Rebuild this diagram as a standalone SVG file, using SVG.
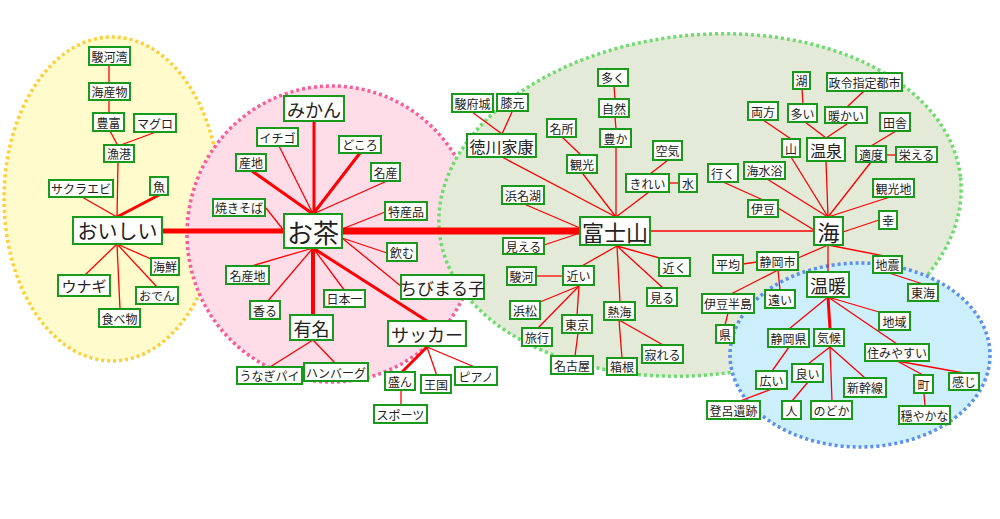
<svg xmlns="http://www.w3.org/2000/svg" width="1000" height="519" viewBox="0 0 1000 519">
<style>
.bg{stroke-width:3.5;stroke-dasharray:3 3}
.n rect{fill:#fff;stroke:#1a9a1a;stroke-width:2}
.n text{font-family:"Noto Sans CJK JP","Noto Sans",sans-serif;text-anchor:middle;dominant-baseline:central;fill:#222;font-size:12px}
#edges line{stroke:#ff0000;stroke-width:1.3}
#edges line.t3{stroke-width:3}
#edges line.t4{stroke-width:4}
#edges line.t5{stroke-width:5}
#edges line.t7{stroke-width:7}
</style>
<rect width="1000" height="519" fill="#fff"/>
<g id="regions">
<ellipse class="bg" cx="112" cy="199" rx="108" ry="162" fill="#fffbcc" stroke="#ffcf3a"/>
<ellipse class="bg" cx="332" cy="234" rx="145" ry="148" fill="#ffdde8" stroke="#fb5c98"/>
<ellipse class="bg" cx="700" cy="205" rx="262" ry="170" transform="rotate(-6 700 205)" fill="#e4ead8" stroke="#6ddc6d"/>
<ellipse class="bg" cx="860" cy="355" rx="130" ry="92" fill="#cdeefb" stroke="#5b8ff0"/>
</g>
<g id="edges">
<line x1="109" y1="65" x2="109" y2="83"/>
<line x1="109" y1="100" x2="109" y2="113"/>
<line x1="110" y1="131" x2="118" y2="146"/>
<line x1="156" y1="132" x2="118" y2="146"/>
<line x1="118" y1="162" x2="117" y2="217"/>
<line x1="82" y1="197" x2="117" y2="217"/>
<line class="t3" x1="159" y1="195" x2="117" y2="217"/>
<line x1="117" y1="244" x2="85" y2="275"/>
<line x1="117" y1="244" x2="120" y2="309"/>
<line x1="117" y1="244" x2="157" y2="287"/>
<line x1="117" y1="244" x2="151" y2="259"/>
<line class="t5" x1="162" y1="231" x2="285" y2="231"/>
<line class="t3" x1="314" y1="121" x2="314" y2="214"/>
<line x1="279" y1="146" x2="313" y2="214"/>
<line class="t3" x1="360" y1="153" x2="313" y2="214"/>
<line class="t3" x1="252" y1="171" x2="313" y2="214"/>
<line x1="387" y1="181" x2="313" y2="214"/>
<line x1="266" y1="208" x2="285" y2="232"/>
<line x1="385" y1="212" x2="342" y2="229"/>
<line x1="342" y1="238" x2="387" y2="253"/>
<line x1="342" y1="238" x2="402" y2="287"/>
<line x1="313" y1="248" x2="248" y2="267"/>
<line x1="313" y1="248" x2="267" y2="302"/>
<line class="t4" x1="313" y1="248" x2="313" y2="316"/>
<line x1="313" y1="248" x2="345" y2="291"/>
<line class="t3" x1="313" y1="248" x2="427" y2="321"/>
<line x1="313" y1="340" x2="270" y2="367"/>
<line x1="313" y1="340" x2="336" y2="364"/>
<line class="t3" x1="427" y1="347" x2="401" y2="373"/>
<line x1="427" y1="347" x2="437" y2="376"/>
<line x1="427" y1="347" x2="477" y2="368"/>
<line x1="401" y1="390" x2="401" y2="406"/>
<line class="t7" x1="342" y1="231" x2="581" y2="231"/>
<line x1="614" y1="86" x2="615" y2="99"/>
<line x1="615" y1="117" x2="616" y2="129"/>
<line x1="616" y1="147" x2="616" y2="217"/>
<line x1="562" y1="137" x2="582" y2="156"/>
<line x1="583" y1="174" x2="616" y2="217"/>
<line x1="502" y1="157" x2="616" y2="217"/>
<line x1="472" y1="112" x2="502" y2="134"/>
<line x1="512" y1="112" x2="502" y2="134"/>
<line x1="668" y1="160" x2="650" y2="174"/>
<line x1="669" y1="183" x2="679" y2="183"/>
<line x1="649" y1="192" x2="616" y2="217"/>
<line x1="524" y1="204" x2="580" y2="228"/>
<line x1="544" y1="245" x2="580" y2="233"/>
<line x1="650" y1="231" x2="814" y2="231"/>
<line x1="617" y1="246" x2="580" y2="267"/>
<line x1="617" y1="246" x2="663" y2="259"/>
<line x1="617" y1="246" x2="663" y2="288"/>
<line x1="617" y1="246" x2="620" y2="302"/>
<line x1="536" y1="276" x2="563" y2="276"/>
<line x1="579" y1="286" x2="540" y2="302"/>
<line x1="579" y1="286" x2="538" y2="328"/>
<line x1="579" y1="286" x2="577" y2="315"/>
<line x1="578" y1="333" x2="575" y2="356"/>
<line x1="619" y1="320" x2="622" y2="358"/>
<line x1="619" y1="320" x2="663" y2="345"/>
<line x1="802" y1="89" x2="803" y2="104"/>
<line x1="864" y1="91" x2="847" y2="107"/>
<line x1="805" y1="122" x2="826" y2="138"/>
<line x1="847" y1="124" x2="826" y2="138"/>
<line x1="763" y1="120" x2="791" y2="139"/>
<line x1="896" y1="131" x2="871" y2="146"/>
<line x1="886" y1="155" x2="896" y2="155"/>
<line x1="791" y1="157" x2="828" y2="217"/>
<line x1="826" y1="161" x2="828" y2="217"/>
<line x1="871" y1="162" x2="828" y2="217"/>
<line x1="767" y1="179" x2="828" y2="217"/>
<line x1="890" y1="197" x2="828" y2="217"/>
<line x1="723" y1="182" x2="763" y2="200"/>
<line x1="778" y1="208" x2="814" y2="230"/>
<line x1="879" y1="220" x2="843" y2="232"/>
<line x1="828" y1="245" x2="798" y2="258"/>
<line x1="828" y1="245" x2="884" y2="256"/>
<line x1="828" y1="245" x2="828" y2="272"/>
<line x1="889" y1="273" x2="923" y2="284"/>
<line x1="743" y1="264" x2="757" y2="262"/>
<line x1="778" y1="270" x2="780" y2="290"/>
<line x1="778" y1="270" x2="729" y2="295"/>
<line x1="728" y1="313" x2="725" y2="325"/>
<line x1="828" y1="297" x2="789" y2="329"/>
<line class="t3" x1="828" y1="297" x2="830" y2="329"/>
<line x1="828" y1="297" x2="879" y2="312"/>
<line x1="828" y1="297" x2="897" y2="344"/>
<line x1="789" y1="347" x2="772" y2="371"/>
<line x1="772" y1="389" x2="740" y2="401"/>
<line x1="830" y1="347" x2="808" y2="364"/>
<line x1="830" y1="347" x2="832" y2="401"/>
<line x1="830" y1="347" x2="865" y2="378"/>
<line x1="808" y1="382" x2="792" y2="401"/>
<line x1="897" y1="361" x2="923" y2="375"/>
<line x1="897" y1="361" x2="964" y2="373"/>
<line x1="924" y1="394" x2="925" y2="406"/>
</g>
<g id="n_surugawan" class="n"><rect x="89" y="47" width="41" height="18"/><text x="109.5" y="56">駿河湾</text></g>
<g id="n_kaisanbutsu" class="n"><rect x="89" y="83" width="41" height="17"/><text x="109.5" y="91.5">海産物</text></g>
<g id="n_houfu" class="n"><rect x="93" y="113" width="31" height="18"/><text x="108.5" y="122">豊富</text></g>
<g id="n_maguro" class="n"><rect x="134" y="114" width="42" height="18"/><text x="155" y="123">マグロ</text></g>
<g id="n_gyokou" class="n"><rect x="104" y="145" width="30" height="17"/><text x="119" y="153.5">漁港</text></g>
<g id="n_sakuraebi" class="n"><rect x="49" y="180" width="64" height="17"/><text x="81" y="188.5">サクラエビ</text></g>
<g id="n_sakana" class="n"><rect x="150" y="177" width="18" height="18"/><text x="159" y="186">魚</text></g>
<g id="n_oishii" class="n"><rect x="73" y="217" width="89" height="27"/><text x="117.5" y="230.5" style="font-size:20px">おいしい</text></g>
<g id="n_kaisen" class="n"><rect x="151" y="258" width="28" height="17"/><text x="165" y="266.5">海鮮</text></g>
<g id="n_unagi" class="n"><rect x="58" y="275" width="52" height="21"/><text x="84" y="285.5" style="font-size:15px">ウナギ</text></g>
<g id="n_oden" class="n"><rect x="136" y="287" width="42" height="17"/><text x="157" y="295.5">おでん</text></g>
<g id="n_tabemono" class="n"><rect x="99" y="309" width="41" height="18"/><text x="119.5" y="318">食べ物</text></g>
<g id="n_mikan" class="n"><rect x="284" y="96" width="60" height="25"/><text x="314" y="108.5" style="font-size:18px">みかん</text></g>
<g id="n_ichigo" class="n"><rect x="257" y="128" width="41" height="18"/><text x="277.5" y="137">イチゴ</text></g>
<g id="n_dokoro" class="n"><rect x="339" y="136" width="42" height="17"/><text x="360" y="144.5">どころ</text></g>
<g id="n_sanchi" class="n"><rect x="236" y="154" width="30" height="17"/><text x="251" y="162.5">産地</text></g>
<g id="n_meisan" class="n"><rect x="371" y="163" width="29" height="18"/><text x="385.5" y="172">名産</text></g>
<g id="n_yakisoba" class="n"><rect x="213" y="199" width="52" height="17"/><text x="239" y="207.5">焼きそば</text></g>
<g id="n_tokusanhin" class="n"><rect x="385" y="202" width="42" height="18"/><text x="406" y="211">特産品</text></g>
<g id="n_ocha" class="n"><rect x="284" y="214" width="58" height="34"/><text x="313" y="231" style="font-size:26px">お茶</text></g>
<g id="n_nomu" class="n"><rect x="387" y="243" width="30" height="18"/><text x="402" y="252">飲む</text></g>
<g id="n_meisanchi" class="n"><rect x="226" y="266" width="43" height="18"/><text x="247.5" y="275">名産地</text></g>
<g id="n_kaoru" class="n"><rect x="250" y="301" width="30" height="18"/><text x="265" y="310">香る</text></g>
<g id="n_nihonichi" class="n"><rect x="324" y="290" width="41" height="17"/><text x="344.5" y="298.5">日本一</text></g>
<g id="n_yuumei" class="n"><rect x="290" y="315" width="43" height="25"/><text x="311.5" y="327.5" style="font-size:18px">有名</text></g>
<g id="n_chibimaruko" class="n"><rect x="401" y="275" width="83" height="24"/><text x="442.5" y="287" style="font-size:17px">ちびまる子</text></g>
<g id="n_soccer" class="n"><rect x="388" y="321" width="78" height="25"/><text x="427" y="333.5" style="font-size:18px">サッカー</text></g>
<g id="n_unagipie" class="n"><rect x="237" y="367" width="65" height="17"/><text x="269.5" y="375.5">うなぎパイ</text></g>
<g id="n_hamburg" class="n"><rect x="304" y="363" width="64" height="18"/><text x="336" y="372">ハンバーグ</text></g>
<g id="n_sakan" class="n"><rect x="385" y="372" width="30" height="18"/><text x="400" y="381">盛ん</text></g>
<g id="n_oukoku" class="n"><rect x="421" y="375" width="30" height="18"/><text x="436" y="384">王国</text></g>
<g id="n_piano" class="n"><rect x="455" y="367" width="42" height="18"/><text x="476" y="376">ピアノ</text></g>
<g id="n_sports" class="n"><rect x="374" y="405" width="53" height="18"/><text x="400.5" y="414">スポーツ</text></g>
<g id="n_ooku" class="n"><rect x="598" y="69" width="30" height="17"/><text x="613" y="77.5">多く</text></g>
<g id="n_sunpujou" class="n"><rect x="452" y="94" width="41" height="18"/><text x="472.5" y="103">駿府城</text></g>
<g id="n_hizamoto" class="n"><rect x="497" y="94" width="31" height="17"/><text x="512.5" y="102.5">膝元</text></g>
<g id="n_shizen" class="n"><rect x="599" y="99" width="30" height="18"/><text x="614" y="108">自然</text></g>
<g id="n_meisho" class="n"><rect x="547" y="119" width="29" height="18"/><text x="561.5" y="128">名所</text></g>
<g id="n_tokugawa" class="n"><rect x="467" y="134" width="69" height="23"/><text x="501.5" y="145.5" style="font-size:16px">徳川家康</text></g>
<g id="n_yutaka" class="n"><rect x="600" y="129" width="31" height="18"/><text x="615.5" y="138">豊か</text></g>
<g id="n_kuuki" class="n"><rect x="653" y="141" width="29" height="19"/><text x="667.5" y="150.5">空気</text></g>
<g id="n_kankou" class="n"><rect x="567" y="155" width="30" height="18"/><text x="582" y="164">観光</text></g>
<g id="n_kirei" class="n"><rect x="626" y="174" width="43" height="18"/><text x="647.5" y="183">きれい</text></g>
<g id="n_mizu" class="n"><rect x="679" y="174" width="18" height="18"/><text x="688" y="183">水</text></g>
<g id="n_hamanako" class="n"><rect x="502" y="186" width="42" height="18"/><text x="523" y="195">浜名湖</text></g>
<g id="n_fujisan" class="n"><rect x="580" y="217" width="70" height="28"/><text x="615" y="231" style="font-size:22px">富士山</text></g>
<g id="n_mieru" class="n"><rect x="503" y="238" width="41" height="16"/><text x="523.5" y="246">見える</text></g>
<g id="n_chikai" class="n"><rect x="563" y="266" width="31" height="19"/><text x="578.5" y="275.5">近い</text></g>
<g id="n_suruga" class="n"><rect x="507" y="267" width="29" height="18"/><text x="521.5" y="276">駿河</text></g>
<g id="n_chikaku" class="n"><rect x="659" y="258" width="31" height="18"/><text x="674.5" y="267">近く</text></g>
<g id="n_miru" class="n"><rect x="647" y="288" width="30" height="18"/><text x="662" y="297">見る</text></g>
<g id="n_hamamatsu" class="n"><rect x="510" y="301" width="30" height="18"/><text x="525" y="310">浜松</text></g>
<g id="n_toukyou" class="n"><rect x="562" y="315" width="30" height="18"/><text x="577" y="324">東京</text></g>
<g id="n_atami" class="n"><rect x="604" y="302" width="31" height="18"/><text x="619.5" y="311">熱海</text></g>
<g id="n_ryokou" class="n"><rect x="522" y="328" width="30" height="18"/><text x="537" y="337">旅行</text></g>
<g id="n_sabireru" class="n"><rect x="642" y="345" width="41" height="18"/><text x="662.5" y="354">寂れる</text></g>
<g id="n_nagoya" class="n"><rect x="551" y="356" width="42" height="18"/><text x="572" y="365">名古屋</text></g>
<g id="n_hakone" class="n"><rect x="607" y="358" width="30" height="17"/><text x="622" y="366.5">箱根</text></g>
<g id="n_mizuumi" class="n"><rect x="793" y="72" width="17" height="17"/><text x="801.5" y="80.5">湖</text></g>
<g id="n_seirei" class="n"><rect x="827" y="73" width="75" height="18"/><text x="864.5" y="82">政令指定都市</text></g>
<g id="n_ryouhou" class="n"><rect x="748" y="102" width="30" height="18"/><text x="763" y="111">両方</text></g>
<g id="n_ooi" class="n"><rect x="788" y="104" width="29" height="18"/><text x="802.5" y="113">多い</text></g>
<g id="n_atatakai" class="n"><rect x="825" y="107" width="42" height="16"/><text x="846" y="115">暖かい</text></g>
<g id="n_inaka" class="n"><rect x="880" y="113" width="30" height="18"/><text x="895" y="122">田舎</text></g>
<g id="n_yama" class="n"><rect x="782" y="139" width="18" height="18"/><text x="791" y="148">山</text></g>
<g id="n_onsen" class="n"><rect x="807" y="138" width="38" height="23"/><text x="826" y="149.5" style="font-size:16px">温泉</text></g>
<g id="n_tekido" class="n"><rect x="856" y="146" width="30" height="16"/><text x="871" y="154">適度</text></g>
<g id="n_sakaeru" class="n"><rect x="896" y="147" width="41" height="15"/><text x="916.5" y="154.5">栄える</text></g>
<g id="n_iku" class="n"><rect x="708" y="164" width="30" height="18"/><text x="723" y="173">行く</text></g>
<g id="n_kaisuiyoku" class="n"><rect x="744" y="162" width="41" height="17"/><text x="764.5" y="170.5">海水浴</text></g>
<g id="n_kankouchi" class="n"><rect x="873" y="179" width="41" height="18"/><text x="893.5" y="188">観光地</text></g>
<g id="n_izu" class="n"><rect x="748" y="200" width="30" height="17"/><text x="763" y="208.5">伊豆</text></g>
<g id="n_sachi" class="n"><rect x="879" y="211" width="18" height="18"/><text x="888" y="220">幸</text></g>
<g id="n_umi" class="n"><rect x="814" y="217" width="29" height="28"/><text x="828.5" y="231" style="font-size:22px">海</text></g>
<g id="n_heikin" class="n"><rect x="713" y="255" width="30" height="18"/><text x="728" y="264">平均</text></g>
<g id="n_shizuokashi" class="n"><rect x="757" y="252" width="41" height="18"/><text x="777.5" y="261">静岡市</text></g>
<g id="n_jishin" class="n"><rect x="873" y="256" width="29" height="17"/><text x="887.5" y="264.5">地震</text></g>
<g id="n_ondan" class="n"><rect x="807" y="272" width="42" height="25"/><text x="828" y="284.5" style="font-size:18px">温暖</text></g>
<g id="n_toukai" class="n"><rect x="908" y="284" width="30" height="17"/><text x="923" y="292.5">東海</text></g>
<g id="n_tooi" class="n"><rect x="765" y="290" width="30" height="18"/><text x="780" y="299">遠い</text></g>
<g id="n_izuhantou" class="n"><rect x="702" y="294" width="52" height="19"/><text x="728" y="303.5">伊豆半島</text></g>
<g id="n_chiiki" class="n"><rect x="879" y="312" width="31" height="18"/><text x="894.5" y="321">地域</text></g>
<g id="n_ken" class="n"><rect x="716" y="325" width="18" height="18"/><text x="725" y="334">県</text></g>
<g id="n_shizuokaken" class="n"><rect x="768" y="329" width="41" height="18"/><text x="788.5" y="338">静岡県</text></g>
<g id="n_kikou" class="n"><rect x="814" y="329" width="30" height="17"/><text x="829" y="337.5">気候</text></g>
<g id="n_sumiyasui" class="n"><rect x="865" y="344" width="64" height="17"/><text x="897" y="352.5">住みやすい</text></g>
<g id="n_yoi" class="n"><rect x="792" y="364" width="31" height="18"/><text x="807.5" y="373">良い</text></g>
<g id="n_hiroi" class="n"><rect x="756" y="371" width="31" height="18"/><text x="771.5" y="380">広い</text></g>
<g id="n_shinkansen" class="n"><rect x="844" y="378" width="42" height="19"/><text x="865" y="387.5">新幹線</text></g>
<g id="n_machi" class="n"><rect x="914" y="375" width="19" height="18"/><text x="923.5" y="384">町</text></g>
<g id="n_kanji" class="n"><rect x="949" y="373" width="30" height="17"/><text x="964" y="381.5">感じ</text></g>
<g id="n_toro" class="n"><rect x="707" y="401" width="53" height="18"/><text x="733.5" y="410">登呂遺跡</text></g>
<g id="n_hito" class="n"><rect x="782" y="401" width="19" height="18"/><text x="791.5" y="410">人</text></g>
<g id="n_nodoka" class="n"><rect x="811" y="401" width="41" height="18"/><text x="831.5" y="410">のどか</text></g>
<g id="n_odayaka" class="n"><rect x="899" y="406" width="51" height="18"/><text x="924.5" y="415">穏やかな</text></g>
</svg>
